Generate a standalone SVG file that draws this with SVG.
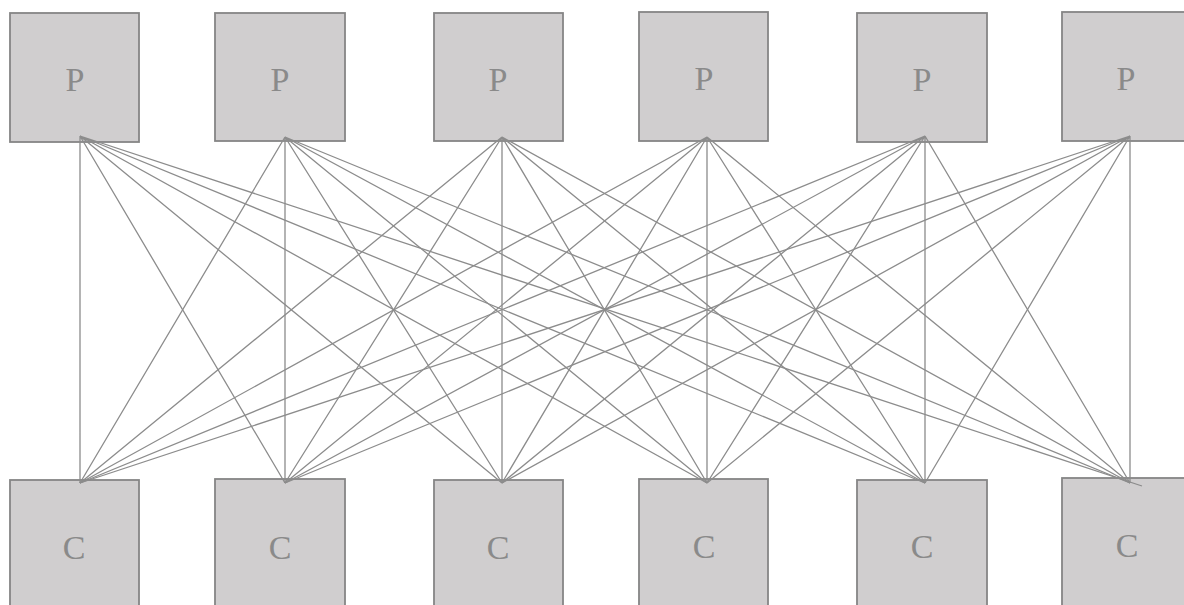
<svg xmlns="http://www.w3.org/2000/svg" width="1184" height="605" viewBox="0 0 1184 605">
  <style>
    .box { fill: #d0cecf; stroke: #858585; stroke-width: 1.8; }
    .lbl { font-family: "Liberation Serif", "Times New Roman", serif; font-size: 34px; fill: #8a8a8a; text-anchor: middle; }
    .wire { stroke: #8c8c8c; stroke-width: 1.3; fill: none; }
  </style>
  <rect width="1184" height="605" fill="#ffffff"/>

  <!-- producers -->
  <g id="p1"><rect class="box" x="10" y="13" width="129" height="129"/><text class="lbl" x="75" y="91">P</text></g>
  <g id="p2"><rect class="box" x="215" y="13" width="130" height="128"/><text class="lbl" x="280" y="91">P</text></g>
  <g id="p3"><rect class="box" x="434" y="13" width="129" height="128"/><text class="lbl" x="498" y="91">P</text></g>
  <g id="p4"><rect class="box" x="639" y="12" width="129" height="129"/><text class="lbl" x="704" y="90">P</text></g>
  <g id="p5"><rect class="box" x="857" y="13" width="130" height="129"/><text class="lbl" x="922" y="91">P</text></g>
  <g id="p6"><rect class="box" x="1062" y="12" width="130" height="129"/><text class="lbl" x="1126" y="90">P</text></g>

  <!-- consumers -->
  <g id="c1"><rect class="box" x="10" y="480" width="129" height="140"/><text class="lbl" x="74" y="559">C</text></g>
  <g id="c2"><rect class="box" x="215" y="479" width="130" height="140"/><text class="lbl" x="280" y="559">C</text></g>
  <g id="c3"><rect class="box" x="434" y="480" width="129" height="140"/><text class="lbl" x="498" y="559">C</text></g>
  <g id="c4"><rect class="box" x="639" y="479" width="129" height="140"/><text class="lbl" x="704" y="558">C</text></g>
  <g id="c5"><rect class="box" x="857" y="480" width="130" height="140"/><text class="lbl" x="922" y="558">C</text></g>
  <g id="c6"><rect class="box" x="1062" y="478" width="130" height="140"/><text class="lbl" x="1127" y="557">C</text></g>

  <!-- every producer wired to every consumer -->
  <g id="connectors" class="wire">
    <path d="M80 136L80 483M80 136L285 483M80 136L502 483M80 136L707 483M80 136L925 483M80 136L1142 486"/>
    <path d="M285 137L80 483M285 137L285 483M285 137L502 483M285 137L707 483M285 137L925 483M285 137L1130 483"/>
    <path d="M502 137L80 483M502 137L285 483M502 137L502 483M502 137L707 483M502 137L925 483M502 137L1130 483"/>
    <path d="M707 137L80 483M707 137L285 483M707 137L502 483M707 137L707 483M707 137L925 483M707 137L1130 483"/>
    <path d="M925 136L80 483M925 136L285 483M925 136L502 483M925 136L707 483M925 136L925 483M925 136L1130 483"/>
    <path d="M1130 136L80 483M1130 136L285 483M1130 136L502 483M1130 136L707 483M1130 136L925 483M1130 136L1130 483"/>
  </g>
</svg>
